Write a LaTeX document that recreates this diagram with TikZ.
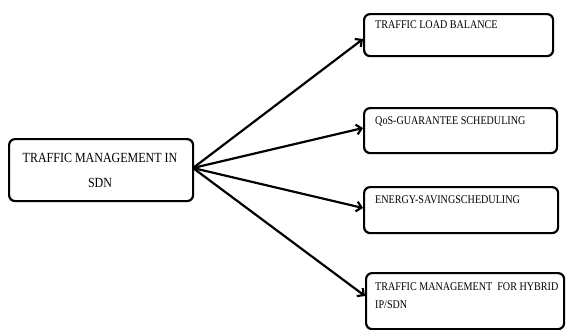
\documentclass[tikz,border=0pt]{standalone}
\usepackage{fontspec}
\setmainfont{Liberation Serif}[FakeStretch=0.86]
\usetikzlibrary{arrows.meta}
\begin{document}
\begin{tikzpicture}[x=1bp,y=-1bp,
  box/.style={draw=black,line width=2.2pt,rounded corners=6bp,inner sep=0pt,anchor=north west},
  lbl/.style={anchor=north west,inner sep=0pt,font=\fontsize{11.8}{18}\selectfont,align=left},
  arr/.style={line width=2.2pt,-{Straight Barb[length=5bp,width=10bp,line width=2.2pt]}}]
\useasboundingbox (0,0) rectangle (568,329);
% left box
\node[box,minimum width=184bp,minimum height=62bp] (main) at (8,138) {};
\node[font=\fontsize{14}{25}\selectfont,align=center,inner sep=0pt] (maint) at (100,170) {TRAFFIC MANAGEMENT IN\\SDN};
% right boxes
\node[box,minimum width=189bp,minimum height=42bp] (b1) at (363,13) {};
\node[lbl] (t1) at (375,21) {TRAFFIC LOAD BALANCE};
\node[box,minimum width=193bp,minimum height=45bp] (b2) at (363,107) {};
\node[lbl] (t2) at (375,117) {QoS-GUARANTEE SCHEDULING};
\node[box,minimum width=194bp,minimum height=46bp] (b3) at (363,186) {};
\node[lbl] (t3) at (375,196) {ENERGY-SAVINGSCHEDULING};
\node[box,minimum width=198bp,minimum height=56bp] (b4) at (365,272) {};
\node[lbl] (t4) at (375,283) {TRAFFIC MANAGEMENT\ \ FOR HYBRID\\IP/SDN};
% connectors
\coordinate (o) at (193,168);
\draw[arr] (o) -- (b1.west |- 0,39);
\draw[arr] (o) -- (b2.west |- 0,128);
\draw[arr] (o) -- (b3.west |- 0,208);
\draw[arr] (o) -- (b4.west |- 0,296);
\end{tikzpicture}
\end{document}
